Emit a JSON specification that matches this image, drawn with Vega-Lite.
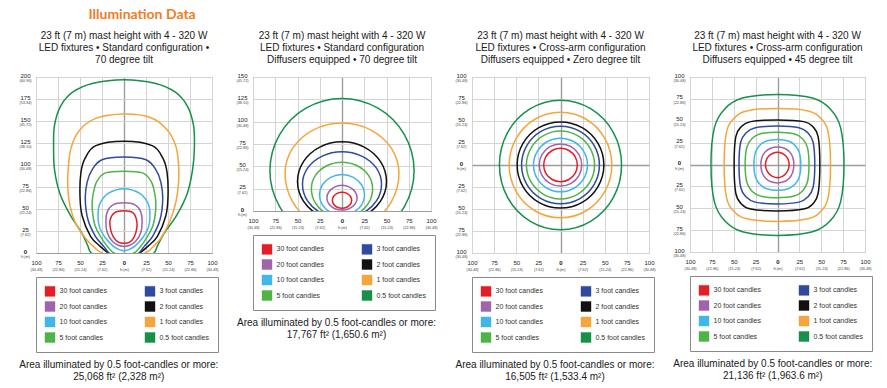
{
"$schema": "https://vega.github.io/schema/vega-lite/v6.json",
"padding": {"left": 18, "top": 7, "right": 5, "bottom": 5},
"title": {"text": "Illumination Data", "anchor": "start", "dx": 70, "font": "Lato", "fontSize": 14, "fontWeight": "bold", "color": "#f47b20", "offset": 9},
"datasets": {
"p1": [
{"fc":0.5,"o":0,"x":0,"y":197},{"fc":0.5,"o":1,"x":35,"y":193},{"fc":0.5,"o":2,"x":58,"y":183},{"fc":0.5,"o":3,"x":72,"y":167},{"fc":0.5,"o":4,"x":79,"y":145},{"fc":0.5,"o":5,"x":80,"y":120},{"fc":0.5,"o":6,"x":78,"y":95},{"fc":0.5,"o":7,"x":72,"y":68},{"fc":0.5,"o":8,"x":60,"y":43},{"fc":0.5,"o":9,"x":46,"y":23},{"fc":0.5,"o":10,"x":38,"y":8},{"fc":0.5,"o":11,"x":34,"y":0},{"fc":0.5,"o":12,"x":18,"y":-10},{"fc":0.5,"o":13,"x":0,"y":-12},{"fc":0.5,"o":14,"x":-18,"y":-10},{"fc":0.5,"o":15,"x":-37,"y":0},{"fc":0.5,"o":16,"x":-41,"y":8},{"fc":0.5,"o":17,"x":-48,"y":23},{"fc":0.5,"o":18,"x":-61,"y":43},{"fc":0.5,"o":19,"x":-73,"y":68},{"fc":0.5,"o":20,"x":-79,"y":95},{"fc":0.5,"o":21,"x":-80,"y":120},{"fc":0.5,"o":22,"x":-79,"y":145},{"fc":0.5,"o":23,"x":-72,"y":167},{"fc":0.5,"o":24,"x":-58,"y":183},{"fc":0.5,"o":25,"x":-35,"y":193},
{"fc":1,"o":0,"x":0,"y":158},{"fc":1,"o":1,"x":30,"y":154},{"fc":1,"o":2,"x":49,"y":140},{"fc":1,"o":3,"x":59,"y":121},{"fc":1,"o":4,"x":62,"y":100},{"fc":1,"o":5,"x":62,"y":80},{"fc":1,"o":6,"x":59,"y":58},{"fc":1,"o":7,"x":52,"y":36},{"fc":1,"o":8,"x":42,"y":17},{"fc":1,"o":9,"x":30,"y":4},{"fc":1,"o":10,"x":24,"y":0},{"fc":1,"o":11,"x":12,"y":-6},{"fc":1,"o":12,"x":0,"y":-8},{"fc":1,"o":13,"x":-12,"y":-6},{"fc":1,"o":14,"x":-25,"y":0},{"fc":1,"o":15,"x":-31,"y":4},{"fc":1,"o":16,"x":-43,"y":16},{"fc":1,"o":17,"x":-55,"y":34},{"fc":1,"o":18,"x":-62,"y":57},{"fc":1,"o":19,"x":-64,"y":80},{"fc":1,"o":20,"x":-63,"y":100},{"fc":1,"o":21,"x":-60,"y":120},{"fc":1,"o":22,"x":-51,"y":139},{"fc":1,"o":23,"x":-32,"y":153},
{"fc":2,"o":0,"x":0,"y":127},{"fc":2,"o":1,"x":32,"y":122},{"fc":2,"o":2,"x":44,"y":108},{"fc":2,"o":3,"x":49,"y":91},{"fc":2,"o":4,"x":50,"y":64},{"fc":2,"o":5,"x":47.5,"y":42},{"fc":2,"o":6,"x":38,"y":19},{"fc":2,"o":7,"x":27,"y":7.5},{"fc":2,"o":8,"x":18,"y":0},{"fc":2,"o":9,"x":8,"y":-5},{"fc":2,"o":10,"x":0,"y":-6},{"fc":2,"o":11,"x":-8,"y":-5},{"fc":2,"o":12,"x":-18,"y":0},{"fc":2,"o":13,"x":-27,"y":7.5},{"fc":2,"o":14,"x":-38,"y":19},{"fc":2,"o":15,"x":-47.5,"y":42},{"fc":2,"o":16,"x":-50,"y":64},{"fc":2,"o":17,"x":-49,"y":91},{"fc":2,"o":18,"x":-44,"y":108},{"fc":2,"o":19,"x":-32,"y":122},
{"fc":3,"o":0,"x":0,"y":109},{"fc":3,"o":1,"x":25,"y":106},{"fc":3,"o":2,"x":36,"y":95},{"fc":3,"o":3,"x":42,"y":80},{"fc":3,"o":4,"x":44,"y":61},{"fc":3,"o":5,"x":41,"y":38},{"fc":3,"o":6,"x":32.5,"y":19},{"fc":3,"o":7,"x":23,"y":7.5},{"fc":3,"o":8,"x":17,"y":0},{"fc":3,"o":9,"x":8,"y":-4},{"fc":3,"o":10,"x":0,"y":-5},{"fc":3,"o":11,"x":-8,"y":-4},{"fc":3,"o":12,"x":-17,"y":0},{"fc":3,"o":13,"x":-23,"y":7.5},{"fc":3,"o":14,"x":-32.5,"y":19},{"fc":3,"o":15,"x":-41,"y":38},{"fc":3,"o":16,"x":-44,"y":61},{"fc":3,"o":17,"x":-42,"y":80},{"fc":3,"o":18,"x":-36,"y":95},{"fc":3,"o":19,"x":-25,"y":106},
{"fc":5,"o":0,"x":0,"y":93},{"fc":5,"o":1,"x":21,"y":91},{"fc":5,"o":2,"x":31,"y":81},{"fc":5,"o":3,"x":35.5,"y":64},{"fc":5,"o":4,"x":36,"y":49},{"fc":5,"o":5,"x":32.5,"y":30},{"fc":5,"o":6,"x":23,"y":13},{"fc":5,"o":7,"x":14,"y":2},{"fc":5,"o":8,"x":11,"y":0},{"fc":5,"o":9,"x":5,"y":-3},{"fc":5,"o":10,"x":0,"y":-4},{"fc":5,"o":11,"x":-5,"y":-3},{"fc":5,"o":12,"x":-11,"y":0},{"fc":5,"o":13,"x":-14,"y":2},{"fc":5,"o":14,"x":-23,"y":13},{"fc":5,"o":15,"x":-32.5,"y":30},{"fc":5,"o":16,"x":-36,"y":49},{"fc":5,"o":17,"x":-35.5,"y":64},{"fc":5,"o":18,"x":-31,"y":81},{"fc":5,"o":19,"x":-21,"y":91},
{"fc":10,"o":0,"x":0,"y":73},{"fc":10,"o":1,"x":17.5,"y":68},{"fc":10,"o":2,"x":27,"y":57},{"fc":10,"o":3,"x":29.5,"y":45},{"fc":10,"o":4,"x":28,"y":30},{"fc":10,"o":5,"x":21,"y":17},{"fc":10,"o":6,"x":12,"y":7.5},{"fc":10,"o":7,"x":4.5,"y":3.5},{"fc":10,"o":8,"x":0,"y":2.5},{"fc":10,"o":9,"x":-4.5,"y":3.5},{"fc":10,"o":10,"x":-12,"y":7.5},{"fc":10,"o":11,"x":-21,"y":17},{"fc":10,"o":12,"x":-28,"y":30},{"fc":10,"o":13,"x":-29.5,"y":45},{"fc":10,"o":14,"x":-27,"y":57},{"fc":10,"o":15,"x":-17.5,"y":68},
{"fc":20,"o":0,"x":0,"y":57},{"fc":20,"o":1,"x":13,"y":54.5},{"fc":20,"o":2,"x":19,"y":47},{"fc":20,"o":3,"x":20.6,"y":36},{"fc":20,"o":4,"x":19,"y":23},{"fc":20,"o":5,"x":13,"y":13},{"fc":20,"o":6,"x":6,"y":8.5},{"fc":20,"o":7,"x":0,"y":7.5},{"fc":20,"o":8,"x":-6,"y":8.5},{"fc":20,"o":9,"x":-13,"y":13},{"fc":20,"o":10,"x":-19,"y":23},{"fc":20,"o":11,"x":-20.6,"y":36},{"fc":20,"o":12,"x":-19,"y":47},{"fc":20,"o":13,"x":-13,"y":54.5},
{"fc":30,"o":0,"x":0,"y":48},{"fc":30,"o":1,"x":10,"y":46},{"fc":30,"o":2,"x":14.2,"y":38},{"fc":30,"o":3,"x":14.5,"y":28},{"fc":30,"o":4,"x":11.5,"y":18},{"fc":30,"o":5,"x":6,"y":12},{"fc":30,"o":6,"x":0,"y":11},{"fc":30,"o":7,"x":-6,"y":12},{"fc":30,"o":8,"x":-12,"y":18},{"fc":30,"o":9,"x":-15.5,"y":28},{"fc":30,"o":10,"x":-15.7,"y":38},{"fc":30,"o":11,"x":-10.5,"y":46}
],
"p2": [
{"fc":0.5,"o":0,"x":81,"y":45},{"fc":0.5,"o":1,"x":70.1,"y":85.5},{"fc":0.5,"o":2,"x":40.5,"y":115.1},{"fc":0.5,"o":3,"x":0,"y":126},{"fc":0.5,"o":4,"x":-40.5,"y":115.1},{"fc":0.5,"o":5,"x":-70.1,"y":85.5},{"fc":0.5,"o":6,"x":-81,"y":45},{"fc":0.5,"o":7,"x":-70.1,"y":5},{"fc":0.5,"o":8,"x":-40.5,"y":-24.3},{"fc":0.5,"o":9,"x":0,"y":-35},{"fc":0.5,"o":10,"x":40.5,"y":-24.3},{"fc":0.5,"o":11,"x":70.1,"y":5},
{"fc":1,"o":0,"x":64,"y":42},{"fc":1,"o":1,"x":55.4,"y":70.3},{"fc":1,"o":2,"x":32,"y":90.9},{"fc":1,"o":3,"x":0,"y":98.5},{"fc":1,"o":4,"x":-32,"y":90.9},{"fc":1,"o":5,"x":-55.4,"y":70.3},{"fc":1,"o":6,"x":-64,"y":42},{"fc":1,"o":7,"x":-55.4,"y":10.3},{"fc":1,"o":8,"x":-32,"y":-13},{"fc":1,"o":9,"x":0,"y":-21.5},{"fc":1,"o":10,"x":32,"y":-13},{"fc":1,"o":11,"x":55.4,"y":10.3},
{"fc":2,"o":0,"x":50,"y":33},{"fc":2,"o":1,"x":43.3,"y":55.2},{"fc":2,"o":2,"x":25,"y":71.5},{"fc":2,"o":3,"x":0,"y":77.4},{"fc":2,"o":4,"x":-25,"y":71.5},{"fc":2,"o":5,"x":-43.3,"y":55.2},{"fc":2,"o":6,"x":-50,"y":33},{"fc":2,"o":7,"x":-43.3,"y":11},{"fc":2,"o":8,"x":-25,"y":-5.1},{"fc":2,"o":9,"x":0,"y":-11},{"fc":2,"o":10,"x":25,"y":-5.1},{"fc":2,"o":11,"x":43.3,"y":11},
{"fc":3,"o":0,"x":44.4,"y":30},{"fc":3,"o":1,"x":38.5,"y":48.2},{"fc":3,"o":2,"x":22.2,"y":61.5},{"fc":3,"o":3,"x":0,"y":66.4},{"fc":3,"o":4,"x":-22.2,"y":61.5},{"fc":3,"o":5,"x":-38.5,"y":48.2},{"fc":3,"o":6,"x":-44.4,"y":30},{"fc":3,"o":7,"x":-38.5,"y":11},{"fc":3,"o":8,"x":-22.2,"y":-2.9},{"fc":3,"o":9,"x":0,"y":-8},{"fc":3,"o":10,"x":22.2,"y":-2.9},{"fc":3,"o":11,"x":38.5,"y":11},
{"fc":5,"o":0,"x":34.4,"y":25},{"fc":5,"o":1,"x":29.8,"y":39.9},{"fc":5,"o":2,"x":17.2,"y":50.7},{"fc":5,"o":3,"x":0,"y":54.7},{"fc":5,"o":4,"x":-17.2,"y":50.7},{"fc":5,"o":5,"x":-29.8,"y":39.9},{"fc":5,"o":6,"x":-34.4,"y":25},{"fc":5,"o":7,"x":-29.8,"y":8.8},{"fc":5,"o":8,"x":-17.2,"y":-3.1},{"fc":5,"o":9,"x":0,"y":-7.5},{"fc":5,"o":10,"x":17.2,"y":-3.1},{"fc":5,"o":11,"x":29.8,"y":8.8},
{"fc":10,"o":0,"x":25.4,"y":18},{"fc":10,"o":1,"x":22,"y":29.4},{"fc":10,"o":2,"x":12.7,"y":37.7},{"fc":10,"o":3,"x":0,"y":40.8},{"fc":10,"o":4,"x":-12.7,"y":37.7},{"fc":10,"o":5,"x":-22,"y":29.4},{"fc":10,"o":6,"x":-25.4,"y":18},{"fc":10,"o":7,"x":-22,"y":6.8},{"fc":10,"o":8,"x":-12.7,"y":-1.5},{"fc":10,"o":9,"x":0,"y":-4.5},{"fc":10,"o":10,"x":12.7,"y":-1.5},{"fc":10,"o":11,"x":22,"y":6.8},
{"fc":20,"o":0,"x":17,"y":14.5},{"fc":20,"o":1,"x":14.7,"y":21.6},{"fc":20,"o":2,"x":8.5,"y":26.8},{"fc":20,"o":3,"x":0,"y":28.7},{"fc":20,"o":4,"x":-8.5,"y":26.8},{"fc":20,"o":5,"x":-14.7,"y":21.6},{"fc":20,"o":6,"x":-17,"y":14.5},{"fc":20,"o":7,"x":-14.7,"y":7.8},{"fc":20,"o":8,"x":-8.5,"y":2.8},{"fc":20,"o":9,"x":0,"y":1},{"fc":20,"o":10,"x":8.5,"y":2.8},{"fc":20,"o":11,"x":14.7,"y":7.8},
{"fc":30,"o":0,"x":10.8,"y":12},{"fc":30,"o":1,"x":9.4,"y":16.5},{"fc":30,"o":2,"x":5.4,"y":19.8},{"fc":30,"o":3,"x":0,"y":21},{"fc":30,"o":4,"x":-5.4,"y":19.8},{"fc":30,"o":5,"x":-9.4,"y":16.5},{"fc":30,"o":6,"x":-10.8,"y":12},{"fc":30,"o":7,"x":-9.4,"y":7.5},{"fc":30,"o":8,"x":-5.4,"y":4.2},{"fc":30,"o":9,"x":0,"y":3},{"fc":30,"o":10,"x":5.4,"y":4.2},{"fc":30,"o":11,"x":9.4,"y":7.5}
],
"p3": [
{"fc":0.5,"o":0,"x":69,"y":0},{"fc":0.5,"o":1,"x":59.8,"y":36.8},{"fc":0.5,"o":2,"x":34.5,"y":63.7},{"fc":0.5,"o":3,"x":0,"y":73.5},{"fc":0.5,"o":4,"x":-34.5,"y":63.7},{"fc":0.5,"o":5,"x":-59.8,"y":36.8},{"fc":0.5,"o":6,"x":-69,"y":0},{"fc":0.5,"o":7,"x":-59.8,"y":-36.8},{"fc":0.5,"o":8,"x":-34.5,"y":-63.7},{"fc":0.5,"o":9,"x":0,"y":-73.5},{"fc":0.5,"o":10,"x":34.5,"y":-63.7},{"fc":0.5,"o":11,"x":59.8,"y":-36.8},
{"fc":1,"o":0,"x":58,"y":0},{"fc":1,"o":1,"x":50.2,"y":30},{"fc":1,"o":2,"x":29,"y":52},{"fc":1,"o":3,"x":0,"y":60},{"fc":1,"o":4,"x":-29,"y":52},{"fc":1,"o":5,"x":-50.2,"y":30},{"fc":1,"o":6,"x":-58,"y":0},{"fc":1,"o":7,"x":-50.2,"y":-30},{"fc":1,"o":8,"x":-29,"y":-52},{"fc":1,"o":9,"x":0,"y":-60},{"fc":1,"o":10,"x":29,"y":-52},{"fc":1,"o":11,"x":50.2,"y":-30},
{"fc":2,"o":0,"x":49,"y":0},{"fc":2,"o":1,"x":42.4,"y":24.5},{"fc":2,"o":2,"x":24.5,"y":42.4},{"fc":2,"o":3,"x":0,"y":49},{"fc":2,"o":4,"x":-24.5,"y":42.4},{"fc":2,"o":5,"x":-42.4,"y":24.5},{"fc":2,"o":6,"x":-49,"y":0},{"fc":2,"o":7,"x":-42.4,"y":-24.5},{"fc":2,"o":8,"x":-24.5,"y":-42.4},{"fc":2,"o":9,"x":0,"y":-49},{"fc":2,"o":10,"x":24.5,"y":-42.4},{"fc":2,"o":11,"x":42.4,"y":-24.5},
{"fc":3,"o":0,"x":44,"y":0},{"fc":3,"o":1,"x":38.1,"y":22},{"fc":3,"o":2,"x":22,"y":38.1},{"fc":3,"o":3,"x":0,"y":44},{"fc":3,"o":4,"x":-22,"y":38.1},{"fc":3,"o":5,"x":-38.1,"y":22},{"fc":3,"o":6,"x":-44,"y":0},{"fc":3,"o":7,"x":-38.1,"y":-22},{"fc":3,"o":8,"x":-22,"y":-38.1},{"fc":3,"o":9,"x":0,"y":-44},{"fc":3,"o":10,"x":22,"y":-38.1},{"fc":3,"o":11,"x":38.1,"y":-22},
{"fc":5,"o":0,"x":38.5,"y":0},{"fc":5,"o":1,"x":33.3,"y":19.3},{"fc":5,"o":2,"x":19.3,"y":33.3},{"fc":5,"o":3,"x":0,"y":38.5},{"fc":5,"o":4,"x":-19.3,"y":33.3},{"fc":5,"o":5,"x":-33.3,"y":19.3},{"fc":5,"o":6,"x":-38.5,"y":0},{"fc":5,"o":7,"x":-33.3,"y":-19.3},{"fc":5,"o":8,"x":-19.3,"y":-33.3},{"fc":5,"o":9,"x":0,"y":-38.5},{"fc":5,"o":10,"x":19.3,"y":-33.3},{"fc":5,"o":11,"x":33.3,"y":-19.3},
{"fc":10,"o":0,"x":30.5,"y":0},{"fc":10,"o":1,"x":26.4,"y":15.3},{"fc":10,"o":2,"x":15.3,"y":26.4},{"fc":10,"o":3,"x":0,"y":30.5},{"fc":10,"o":4,"x":-15.3,"y":26.4},{"fc":10,"o":5,"x":-26.4,"y":15.3},{"fc":10,"o":6,"x":-30.5,"y":0},{"fc":10,"o":7,"x":-26.4,"y":-15.3},{"fc":10,"o":8,"x":-15.3,"y":-26.4},{"fc":10,"o":9,"x":0,"y":-30.5},{"fc":10,"o":10,"x":15.3,"y":-26.4},{"fc":10,"o":11,"x":26.4,"y":-15.3},
{"fc":20,"o":0,"x":24,"y":0},{"fc":20,"o":1,"x":20.8,"y":12},{"fc":20,"o":2,"x":12,"y":20.8},{"fc":20,"o":3,"x":0,"y":24},{"fc":20,"o":4,"x":-12,"y":20.8},{"fc":20,"o":5,"x":-20.8,"y":12},{"fc":20,"o":6,"x":-24,"y":0},{"fc":20,"o":7,"x":-20.8,"y":-12},{"fc":20,"o":8,"x":-12,"y":-20.8},{"fc":20,"o":9,"x":0,"y":-24},{"fc":20,"o":10,"x":12,"y":-20.8},{"fc":20,"o":11,"x":20.8,"y":-12},
{"fc":30,"o":0,"x":19,"y":0},{"fc":30,"o":1,"x":16.5,"y":9.5},{"fc":30,"o":2,"x":9.5,"y":16.5},{"fc":30,"o":3,"x":0,"y":19},{"fc":30,"o":4,"x":-9.5,"y":16.5},{"fc":30,"o":5,"x":-16.5,"y":9.5},{"fc":30,"o":6,"x":-19,"y":0},{"fc":30,"o":7,"x":-16.5,"y":-9.5},{"fc":30,"o":8,"x":-9.5,"y":-16.5},{"fc":30,"o":9,"x":0,"y":-19},{"fc":30,"o":10,"x":9.5,"y":-16.5},{"fc":30,"o":11,"x":16.5,"y":-9.5}
],
"p4": [
{"fc":0.5,"o":0,"x":76,"y":0},{"fc":0.5,"o":1,"x":72.1,"y":42.2},{"fc":0.5,"o":2,"x":60.3,"y":63.5},{"fc":0.5,"o":3,"x":40.1,"y":75.9},{"fc":0.5,"o":4,"x":0,"y":80},{"fc":0.5,"o":5,"x":-40.1,"y":75.9},{"fc":0.5,"o":6,"x":-60.3,"y":63.5},{"fc":0.5,"o":7,"x":-72.1,"y":42.2},{"fc":0.5,"o":8,"x":-76,"y":0},{"fc":0.5,"o":9,"x":-72.1,"y":-42.7},{"fc":0.5,"o":10,"x":-60.3,"y":-64.3},{"fc":0.5,"o":11,"x":-40.1,"y":-76.9},{"fc":0.5,"o":12,"x":0,"y":-81},{"fc":0.5,"o":13,"x":40.1,"y":-76.9},{"fc":0.5,"o":14,"x":60.3,"y":-64.3},{"fc":0.5,"o":15,"x":72.1,"y":-42.7},
{"fc":1,"o":0,"x":60.6,"y":0},{"fc":1,"o":1,"x":57.9,"y":37},{"fc":1,"o":2,"x":49.7,"y":52.5},{"fc":1,"o":3,"x":35,"y":61.2},{"fc":1,"o":4,"x":0,"y":64},{"fc":1,"o":5,"x":-35.3,"y":61.2},{"fc":1,"o":6,"x":-50,"y":52.5},{"fc":1,"o":7,"x":-58.3,"y":37},{"fc":1,"o":8,"x":-61,"y":0},{"fc":1,"o":9,"x":-58.3,"y":-37.6},{"fc":1,"o":10,"x":-50,"y":-53.3},{"fc":1,"o":11,"x":-35.3,"y":-62.1},{"fc":1,"o":12,"x":0,"y":-65},{"fc":1,"o":13,"x":35,"y":-62.1},{"fc":1,"o":14,"x":49.7,"y":-53.3},{"fc":1,"o":15,"x":57.9,"y":-37.6},
{"fc":2,"o":0,"x":48.4,"y":0},{"fc":2,"o":1,"x":46.5,"y":31.6},{"fc":2,"o":2,"x":40.7,"y":42.9},{"fc":2,"o":3,"x":30,"y":49},{"fc":2,"o":4,"x":0,"y":51},{"fc":2,"o":5,"x":-30.7,"y":49},{"fc":2,"o":6,"x":-41.7,"y":42.9},{"fc":2,"o":7,"x":-47.7,"y":31.6},{"fc":2,"o":8,"x":-49.6,"y":0},{"fc":2,"o":9,"x":-47.7,"y":-32.8},{"fc":2,"o":10,"x":-41.7,"y":-44.6},{"fc":2,"o":11,"x":-30.7,"y":-50.9},{"fc":2,"o":12,"x":0,"y":-53},{"fc":2,"o":13,"x":30,"y":-50.9},{"fc":2,"o":14,"x":40.7,"y":-44.6},{"fc":2,"o":15,"x":46.5,"y":-32.8},
{"fc":3,"o":0,"x":42.6,"y":0},{"fc":3,"o":1,"x":40.7,"y":25.4},{"fc":3,"o":2,"x":34.9,"y":36.1},{"fc":3,"o":3,"x":24.6,"y":42.1},{"fc":3,"o":4,"x":0,"y":44},{"fc":3,"o":5,"x":-25.4,"y":42.1},{"fc":3,"o":6,"x":-36.1,"y":36.1},{"fc":3,"o":7,"x":-42.1,"y":25.4},{"fc":3,"o":8,"x":-44,"y":0},{"fc":3,"o":9,"x":-42.1,"y":-26},{"fc":3,"o":10,"x":-36.1,"y":-36.9},{"fc":3,"o":11,"x":-25.4,"y":-43},{"fc":3,"o":12,"x":0,"y":-45},{"fc":3,"o":13,"x":24.6,"y":-43},{"fc":3,"o":14,"x":34.9,"y":-36.9},{"fc":3,"o":15,"x":40.7,"y":-26},
{"fc":5,"o":0,"x":36,"y":0},{"fc":5,"o":1,"x":34.2,"y":19.5},{"fc":5,"o":2,"x":28.6,"y":29.4},{"fc":5,"o":3,"x":19,"y":35.1},{"fc":5,"o":4,"x":0,"y":37},{"fc":5,"o":5,"x":-19.5,"y":35.1},{"fc":5,"o":6,"x":-29.4,"y":29.4},{"fc":5,"o":7,"x":-35.1,"y":19.5},{"fc":5,"o":8,"x":-37,"y":0},{"fc":5,"o":9,"x":-35.1,"y":-20},{"fc":5,"o":10,"x":-29.4,"y":-30.2},{"fc":5,"o":11,"x":-19.5,"y":-36.1},{"fc":5,"o":12,"x":0,"y":-38},{"fc":5,"o":13,"x":19,"y":-36.1},{"fc":5,"o":14,"x":28.6,"y":-30.2},{"fc":5,"o":15,"x":34.2,"y":-20},
{"fc":10,"o":0,"x":26.7,"y":0},{"fc":10,"o":1,"x":25.1,"y":13.3},{"fc":10,"o":2,"x":20.2,"y":21.8},{"fc":10,"o":3,"x":12.4,"y":26.9},{"fc":10,"o":4,"x":0,"y":28.7},{"fc":10,"o":5,"x":-12.5,"y":26.9},{"fc":10,"o":6,"x":-20.5,"y":21.8},{"fc":10,"o":7,"x":-25.4,"y":13.3},{"fc":10,"o":8,"x":-27,"y":0},{"fc":10,"o":9,"x":-25.4,"y":-13.7},{"fc":10,"o":10,"x":-20.5,"y":-22.4},{"fc":10,"o":11,"x":-12.5,"y":-27.7},{"fc":10,"o":12,"x":0,"y":-29.5},{"fc":10,"o":13,"x":12.4,"y":-27.7},{"fc":10,"o":14,"x":20.2,"y":-22.4},{"fc":10,"o":15,"x":25.1,"y":-13.7},
{"fc":20,"o":0,"x":18.7,"y":0},{"fc":20,"o":1,"x":17.4,"y":8.4},{"fc":20,"o":2,"x":13.7,"y":14.6},{"fc":20,"o":3,"x":7.8,"y":18.6},{"fc":20,"o":4,"x":0,"y":20},{"fc":20,"o":5,"x":-7.9,"y":18.6},{"fc":20,"o":6,"x":-13.9,"y":14.6},{"fc":20,"o":7,"x":-17.7,"y":8.4},{"fc":20,"o":8,"x":-19,"y":0},{"fc":20,"o":9,"x":-17.7,"y":-8.8},{"fc":20,"o":10,"x":-13.9,"y":-15.3},{"fc":20,"o":11,"x":-7.9,"y":-19.5},{"fc":20,"o":12,"x":0,"y":-21},{"fc":20,"o":13,"x":7.8,"y":-19.5},{"fc":20,"o":14,"x":13.7,"y":-15.3},{"fc":20,"o":15,"x":17.4,"y":-8.8},
{"fc":30,"o":0,"x":13.3,"y":0},{"fc":30,"o":1,"x":12.3,"y":5.4},{"fc":30,"o":2,"x":9.4,"y":9.9},{"fc":30,"o":3,"x":5.1,"y":12.9},{"fc":30,"o":4,"x":0,"y":14},{"fc":30,"o":5,"x":-5.2,"y":12.9},{"fc":30,"o":6,"x":-9.7,"y":9.9},{"fc":30,"o":7,"x":-12.7,"y":5.4},{"fc":30,"o":8,"x":-13.7,"y":0},{"fc":30,"o":9,"x":-12.7,"y":-5.7},{"fc":30,"o":10,"x":-9.7,"y":-10.6},{"fc":30,"o":11,"x":-5.2,"y":-13.9},{"fc":30,"o":12,"x":0,"y":-15},{"fc":30,"o":13,"x":5.1,"y":-13.9},{"fc":30,"o":14,"x":9.4,"y":-10.6},{"fc":30,"o":15,"x":12.3,"y":-5.7}
]
},
"spacing": 16,
"resolve": {"legend": {"color": "independent"}},
"hconcat": [
{
 "resolve": {"legend": {"color": "independent"}},
 "title": {"text": ["Area illuminated by 0.5 foot-candles or more:", "25,068 ft² (2,328 m²)"], "orient": "bottom", "anchor": "middle", "offset": 7},
 "vconcat": [{
  "width": 176, "height": 176,
  "title": {"text": ["23 ft (7 m) mast height with 4 - 320 W", "LED fixtures • Standard configuration •", "70 degree tilt"]},
  "data": {"name": "p1"},
  "resolve": {"axis": {"x": "independent", "y": "independent"}},
  "layer": [
   {"mark": {"type": "line", "interpolate": "cardinal-closed", "strokeWidth": 1.5, "clip": true},
    "encoding": {
     "x": {"field": "x", "type": "quantitative", "scale": {"domain": [-100, 100], "nice": false, "zero": false},
       "axis": {"title": null, "orient": "bottom", "values": [-100,-75,-50,-25,0,25,50,75,100], "labelExpr": "'' + abs(datum.value)", "gridColor": {"condition": {"test": "datum.value === 0", "value": "#9c9c9c"}, "value": "#d4d4d4"}, "gridWidth": {"condition": {"test": "datum.value === 0", "value": 1.4}, "value": 1}, "labelFontWeight": {"condition": {"test": "datum.value === 0", "value": "bold"}, "value": "normal"}}},
     "y": {"field": "y", "type": "quantitative", "scale": {"domain": [0, 200], "nice": false, "zero": false},
       "axis": {"title": null, "orient": "left", "values": [0,25,50,75,100,125,150,175,200], "labelExpr": "'' + abs(datum.value)", "gridColor": {"condition": {"test": "datum.value === 0", "value": "#9c9c9c"}, "value": "#d4d4d4"}, "labelFontWeight": {"condition": {"test": "datum.value === 0", "value": "bold"}, "value": "normal"}}},
     "color": {"field": "fc", "type": "nominal", "scale": {"domain": [30,3,20,2,10,1,5,0.5], "range": ["#e41e26","#2f4a9e","#a064aa","#111111","#3fb7e8","#f6a53a","#4fb448","#17904a"]},
       "legend": {"labelExpr": "datum.label + ' foot candles'", "encode": {"symbols": {"update": {"fill": {"scale": "color", "field": "value"}, "fillOpacity": {"value": 1}, "stroke": {"value": "#666"}, "strokeWidth": {"value": 0.4}}}}}},
     "order": {"field": "o"}
    }},
   {"mark": {"type": "point", "opacity": 0, "clip": true},
    "encoding": {
     "x": {"field": "x", "type": "quantitative", "axis": {"title": null, "orient": "bottom", "values": [-100,-75,-50,-25,0,25,50,75,100], "grid": false, "labelFontSize": 3.8, "labelPadding": 14, "labelColor": "#444", "labelExpr": "datum.value === 0 ? 'ft.(m)' : '(' + format(abs(datum.value) * 0.3048, '.2f') + ')'"}},
     "y": {"field": "y", "type": "quantitative", "axis": {"title": null, "orient": "left", "values": [0,25,50,75,100,125,150,175,200], "grid": false, "labelFontSize": 3.8, "labelBaseline": "top", "labelOffset": 1.5, "labelColor": "#444", "labelExpr": "datum.value === 0 ? 'ft.(m)' : '(' + format(abs(datum.value) * 0.3048, '.2f') + ')'"}}
    }}
  ]
 }]
},
{
 "resolve": {"legend": {"color": "independent"}},
 "title": {"text": ["Area illuminated by 0.5 foot-candles or more:", "17,767 ft² (1,650.6 m²)"], "orient": "bottom", "anchor": "middle", "offset": 7},
 "vconcat": [{
  "width": 178, "height": 134,
  "title": {"text": ["23 ft (7 m) mast height with 4 - 320 W", "LED fixtures • Standard configuration", "Diffusers equipped • 70 degree tilt"]},
  "data": {"name": "p2"},
  "resolve": {"axis": {"x": "independent", "y": "independent"}},
  "layer": [
   {"mark": {"type": "line", "interpolate": "cardinal-closed", "strokeWidth": 1.5, "clip": true},
    "encoding": {
     "x": {"field": "x", "type": "quantitative", "scale": {"domain": [-100, 100], "nice": false, "zero": false},
       "axis": {"title": null, "orient": "bottom", "values": [-100,-75,-50,-25,0,25,50,75,100], "labelExpr": "'' + abs(datum.value)", "gridColor": {"condition": {"test": "datum.value === 0", "value": "#9c9c9c"}, "value": "#d4d4d4"}, "gridWidth": {"condition": {"test": "datum.value === 0", "value": 1.4}, "value": 1}, "labelFontWeight": {"condition": {"test": "datum.value === 0", "value": "bold"}, "value": "normal"}}},
     "y": {"field": "y", "type": "quantitative", "scale": {"domain": [0, 150], "nice": false, "zero": false},
       "axis": {"title": null, "orient": "left", "values": [0,25,50,75,100,125,150], "labelExpr": "'' + abs(datum.value)", "gridColor": {"condition": {"test": "datum.value === 0", "value": "#9c9c9c"}, "value": "#d4d4d4"}, "labelFontWeight": {"condition": {"test": "datum.value === 0", "value": "bold"}, "value": "normal"}}},
     "color": {"field": "fc", "type": "nominal", "scale": {"domain": [30,3,20,2,10,1,5,0.5], "range": ["#e41e26","#2f4a9e","#a064aa","#111111","#3fb7e8","#f6a53a","#4fb448","#17904a"]},
       "legend": {"labelExpr": "datum.label + ' foot candles'", "encode": {"symbols": {"update": {"fill": {"scale": "color", "field": "value"}, "fillOpacity": {"value": 1}, "stroke": {"value": "#666"}, "strokeWidth": {"value": 0.4}}}}}},
     "order": {"field": "o"}
    }},
   {"mark": {"type": "point", "opacity": 0, "clip": true},
    "encoding": {
     "x": {"field": "x", "type": "quantitative", "axis": {"title": null, "orient": "bottom", "values": [-100,-75,-50,-25,0,25,50,75,100], "grid": false, "labelFontSize": 3.8, "labelPadding": 14, "labelColor": "#444", "labelExpr": "datum.value === 0 ? 'ft.(m)' : '(' + format(abs(datum.value) * 0.3048, '.2f') + ')'"}},
     "y": {"field": "y", "type": "quantitative", "axis": {"title": null, "orient": "left", "values": [0,25,50,75,100,125,150], "grid": false, "labelFontSize": 3.8, "labelBaseline": "top", "labelOffset": 1.5, "labelColor": "#444", "labelExpr": "datum.value === 0 ? 'ft.(m)' : '(' + format(abs(datum.value) * 0.3048, '.2f') + ')'"}}
    }}
  ]
 }]
},
{
 "resolve": {"legend": {"color": "independent"}},
 "title": {"text": ["Area illuminated by 0.5 foot-candles or more:", "16,505 ft² (1,533.4 m²)"], "orient": "bottom", "anchor": "middle", "offset": 7},
 "vconcat": [{
  "width": 177, "height": 176,
  "title": {"text": ["23 ft (7 m) mast height with 4 - 320 W", "LED fixtures • Cross-arm configuration", "Diffusers equipped • Zero degree tilt"]},
  "data": {"name": "p3"},
  "resolve": {"axis": {"x": "independent", "y": "independent"}},
  "layer": [
   {"mark": {"type": "line", "interpolate": "cardinal-closed", "strokeWidth": 1.5, "clip": true},
    "encoding": {
     "x": {"field": "x", "type": "quantitative", "scale": {"domain": [-100, 100], "nice": false, "zero": false},
       "axis": {"title": null, "orient": "bottom", "values": [-100,-75,-50,-25,0,25,50,75,100], "labelExpr": "'' + abs(datum.value)", "gridColor": {"condition": {"test": "datum.value === 0", "value": "#9c9c9c"}, "value": "#d4d4d4"}, "gridWidth": {"condition": {"test": "datum.value === 0", "value": 1.4}, "value": 1}, "labelFontWeight": {"condition": {"test": "datum.value === 0", "value": "bold"}, "value": "normal"}}},
     "y": {"field": "y", "type": "quantitative", "scale": {"domain": [-100, 100], "nice": false, "zero": false},
       "axis": {"title": null, "orient": "left", "values": [-100,-75,-50,-25,0,25,50,75,100], "labelExpr": "'' + abs(datum.value)", "gridColor": {"condition": {"test": "datum.value === 0", "value": "#9c9c9c"}, "value": "#d4d4d4"}, "gridWidth": {"condition": {"test": "datum.value === 0", "value": 1.4}, "value": 1}, "labelFontWeight": {"condition": {"test": "datum.value === 0", "value": "bold"}, "value": "normal"}}},
     "color": {"field": "fc", "type": "nominal", "scale": {"domain": [30,3,20,2,10,1,5,0.5], "range": ["#e41e26","#2f4a9e","#a064aa","#111111","#3fb7e8","#f6a53a","#4fb448","#17904a"]},
       "legend": {"labelExpr": "datum.label + ' foot candles'", "encode": {"symbols": {"update": {"fill": {"scale": "color", "field": "value"}, "fillOpacity": {"value": 1}, "stroke": {"value": "#666"}, "strokeWidth": {"value": 0.4}}}}}},
     "order": {"field": "o"}
    }},
   {"mark": {"type": "point", "opacity": 0, "clip": true},
    "encoding": {
     "x": {"field": "x", "type": "quantitative", "axis": {"title": null, "orient": "bottom", "values": [-100,-75,-50,-25,0,25,50,75,100], "grid": false, "labelFontSize": 3.8, "labelPadding": 14, "labelColor": "#444", "labelExpr": "datum.value === 0 ? 'ft.(m)' : '(' + format(abs(datum.value) * 0.3048, '.2f') + ')'"}},
     "y": {"field": "y", "type": "quantitative", "axis": {"title": null, "orient": "left", "values": [-100,-75,-50,-25,0,25,50,75,100], "grid": false, "labelFontSize": 3.8, "labelBaseline": "top", "labelOffset": 1.5, "labelColor": "#444", "labelExpr": "datum.value === 0 ? 'ft.(m)' : '(' + format(abs(datum.value) * 0.3048, '.2f') + ')'"}}
    }}
  ]
 }]
},
{
 "resolve": {"legend": {"color": "independent"}},
 "title": {"text": ["Area illuminated by 0.5 foot-candles or more:", "21,136 ft² (1,963.6 m²)"], "orient": "bottom", "anchor": "middle", "offset": 7},
 "vconcat": [{
  "width": 175, "height": 175,
  "title": {"text": ["23 ft (7 m) mast height with 4 - 320 W", "LED fixtures • Cross-arm configuration", "Diffusers equipped • 45 degree tilt"]},
  "data": {"name": "p4"},
  "resolve": {"axis": {"x": "independent", "y": "independent"}},
  "layer": [
   {"mark": {"type": "line", "interpolate": "cardinal-closed", "strokeWidth": 1.5, "clip": true},
    "encoding": {
     "x": {"field": "x", "type": "quantitative", "scale": {"domain": [-100, 100], "nice": false, "zero": false},
       "axis": {"title": null, "orient": "bottom", "values": [-100,-75,-50,-25,0,25,50,75,100], "labelExpr": "'' + abs(datum.value)", "gridColor": {"condition": {"test": "datum.value === 0", "value": "#9c9c9c"}, "value": "#d4d4d4"}, "gridWidth": {"condition": {"test": "datum.value === 0", "value": 1.4}, "value": 1}, "labelFontWeight": {"condition": {"test": "datum.value === 0", "value": "bold"}, "value": "normal"}}},
     "y": {"field": "y", "type": "quantitative", "scale": {"domain": [-100, 100], "nice": false, "zero": false},
       "axis": {"title": null, "orient": "left", "values": [-100,-75,-50,-25,0,25,50,75,100], "labelExpr": "'' + abs(datum.value)", "gridColor": {"condition": {"test": "datum.value === 0", "value": "#9c9c9c"}, "value": "#d4d4d4"}, "gridWidth": {"condition": {"test": "datum.value === 0", "value": 1.4}, "value": 1}, "labelFontWeight": {"condition": {"test": "datum.value === 0", "value": "bold"}, "value": "normal"}}},
     "color": {"field": "fc", "type": "nominal", "scale": {"domain": [30,3,20,2,10,1,5,0.5], "range": ["#e41e26","#2f4a9e","#a064aa","#111111","#3fb7e8","#f6a53a","#4fb448","#17904a"]},
       "legend": {"labelExpr": "datum.label + ' foot candles'", "encode": {"symbols": {"update": {"fill": {"scale": "color", "field": "value"}, "fillOpacity": {"value": 1}, "stroke": {"value": "#666"}, "strokeWidth": {"value": 0.4}}}}}},
     "order": {"field": "o"}
    }},
   {"mark": {"type": "point", "opacity": 0, "clip": true},
    "encoding": {
     "x": {"field": "x", "type": "quantitative", "axis": {"title": null, "orient": "bottom", "values": [-100,-75,-50,-25,0,25,50,75,100], "grid": false, "labelFontSize": 3.8, "labelPadding": 14, "labelColor": "#444", "labelExpr": "datum.value === 0 ? 'ft.(m)' : '(' + format(abs(datum.value) * 0.3048, '.2f') + ')'"}},
     "y": {"field": "y", "type": "quantitative", "axis": {"title": null, "orient": "left", "values": [-100,-75,-50,-25,0,25,50,75,100], "grid": false, "labelFontSize": 3.8, "labelBaseline": "top", "labelOffset": 1.5, "labelColor": "#444", "labelExpr": "datum.value === 0 ? 'ft.(m)' : '(' + format(abs(datum.value) * 0.3048, '.2f') + ')'"}}
    }}
  ]
 }]
}
],
"config": {
 "font": "Liberation Sans",
 "view": {"stroke": "#a8a8a8", "strokeWidth": 1},
 "title": {"font": "Liberation Sans", "fontSize": 10, "fontWeight": "normal", "color": "#1a1a1a", "lineHeight": 12, "offset": 7},
 "axis": {"domain": false, "ticks": false, "tickSize": 0, "labelFontSize": 6, "labelColor": "#222", "labelFont": "Liberation Sans", "labelFlush": false, "labelOverlap": false, "gridOpacity": 1},
 "axisX": {"labelBaseline": "top", "labelPadding": 6.5},
 "axisY": {"labelAlign": "center", "labelBaseline": "alphabetic", "labelPadding": 11},
 "legend": {"orient": "bottom", "columns": 2, "title": null, "symbolType": "square", "symbolSize": 100, "symbolStrokeWidth": 0.4, "labelFontSize": 7, "labelFont": "Liberation Sans", "labelColor": "#333", "labelOffset": 4, "strokeColor": "#8a8a8a", "padding": 8.5, "columnPadding": 36, "rowPadding": 2.5, "offset": 6}
}
}
